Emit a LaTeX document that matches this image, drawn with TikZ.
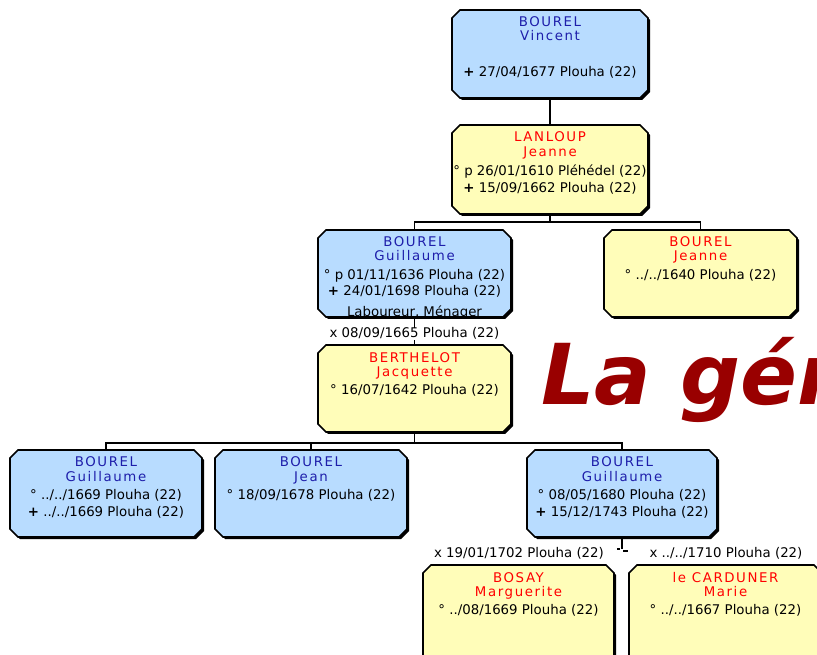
\documentclass[tikz,border=0pt]{standalone}
\usepackage{fontspec}
\setmainfont{DejaVu Sans}
\newfontfamily\namefont{DejaVu Sans}[LetterSpace=12]
\newfontfamily\lafont{DejaVu Sans Bold Oblique}
\usetikzlibrary{calc}
\definecolor{boxblue}{RGB}{184,220,255}
\definecolor{boxyellow}{RGB}{255,253,185}
\definecolor{nameblue}{RGB}{30,30,170}
\definecolor{namered}{RGB}{255,0,0}
\definecolor{lared}{RGB}{153,0,0}
\tikzset{
  pframe/.style={draw=none, inner sep=0pt, outer sep=0pt},
  pedge/.style={draw=black, line width=1.2pt, line join=miter},
  pshadow/.style={fill=black},
  lname/.style={font=\namefont\fontsize{10}{11}\selectfont, inner sep=0pt, text height=7.5pt, text depth=2pt},
  bname/.style={lname, text=nameblue},
  rname/.style={lname, text=namered},
  dline/.style={font=\fontsize{10}{11}\selectfont, inner sep=0pt, text height=7.5pt, text depth=2pt},
  mlabel/.style={dline, fill=white, inner xsep=1pt},
  conn/.style={draw=black, line width=0.9pt},
}
% chamfered outline around a named rectangle node
\newcommand\chamfer[2]{($(#1.north west)+(8+#2,#2)$) -- ($(#1.north east)+(-8+#2,#2)$) -- ($(#1.north east)+(#2,8+#2)$) -- ($(#1.south east)+(#2,-8+#2)$) -- ($(#1.south east)+(-8+#2,#2)$) -- ($(#1.south west)+(8+#2,#2)$) -- ($(#1.south west)+(#2,-8+#2)$) -- ($(#1.north west)+(#2,8+#2)$) -- cycle}
\newcommand\pbox[6]{%
  \node[pframe, minimum width={(#5-#3)*0.75pt}, minimum height={(#6-#4)*0.75pt}] (#1) at ({(#3+#5)/2},{(#4+#6)/2}) {};
  \fill[pshadow] \chamfer{#1}{2};
  \filldraw[pedge, fill=#2] \chamfer{#1}{0};
}
\newcommand\dead{\textbf{+}}
\begin{document}
\begin{tikzpicture}[x=0.75pt,y=-0.75pt]
\clip (0,0) rectangle (817,655);
% boxes
\pbox{vincent}{boxblue}{452}{10}{648}{98}
\pbox{lanloup}{boxyellow}{452}{125}{648}{214}
\pbox{gtwo}{boxblue}{318}{230}{511}{317}
\pbox{jeanne}{boxyellow}{604}{230}{797}{317}
\pbox{berthelot}{boxyellow}{318}{345}{511}{432}
\pbox{gone}{boxblue}{10}{450}{202}{537}
\pbox{jean}{boxblue}{215}{450}{407}{537}
\pbox{gthree}{boxblue}{527}{450}{717}{537}
\pbox{bosay}{boxyellow}{423}{565}{614}{665}
\pbox{carduner}{boxyellow}{629}{565}{822}{665}
% texts
\node[bname] (vincent-n) at ($(vincent.north)+(0,13)$) {BOUREL};
\node[bname] (vincent-f) at ($(vincent.north)+(0,27)$) {Vincent};
\node[dline] (vincent-2) at ($(vincent.north)+(0,63)$) {\dead\ 27/04/1677 Plouha (22)};

\node[rname] (lanloup-n) at ($(lanloup.north)+(0,13)$) {LANLOUP};
\node[rname] (lanloup-f) at ($(lanloup.north)+(0,28)$) {Jeanne};
\node[dline] (lanloup-1) at ($(lanloup.north)+(0,47)$) {° p 26/01/1610 Pléhédel (22)};
\node[dline] (lanloup-2) at ($(lanloup.north)+(0,64)$) {\dead\ 15/09/1662 Plouha (22)};

\node[bname] (gtwo-n) at ($(gtwo.north)+(0,13)$) {BOUREL};
\node[bname] (gtwo-f) at ($(gtwo.north)+(0,27)$) {Guillaume};
\node[dline] (gtwo-1) at ($(gtwo.north)+(0,46)$) {° p 01/11/1636 Plouha (22)};
\node[dline] (gtwo-2) at ($(gtwo.north)+(0,62)$) {\dead\ 24/01/1698 Plouha (22)};
\node[dline] (gtwo-3) at ($(gtwo.north)+(0,83)$) {Laboureur, Ménager};

\node[rname] (jeanne-n) at ($(jeanne.north)+(0,13)$) {BOUREL};
\node[rname] (jeanne-f) at ($(jeanne.north)+(0,27)$) {Jeanne};
\node[dline] (jeanne-1) at ($(jeanne.north)+(0,46)$) {° ../../1640 Plouha (22)};

\node[rname] (berthelot-n) at ($(berthelot.north)+(0,14)$) {BERTHELOT};
\node[rname] (berthelot-f) at ($(berthelot.north)+(0,28)$) {Jacquette};
\node[dline] (berthelot-1) at ($(berthelot.north)+(0,46)$) {° 16/07/1642 Plouha (22)};

\node[bname] (gone-n) at ($(gone.north)+(0,13)$) {BOUREL};
\node[bname] (gone-f) at ($(gone.north)+(0,28)$) {Guillaume};
\node[dline] (gone-1) at ($(gone.north)+(0,46)$) {° ../../1669 Plouha (22)};
\node[dline] (gone-2) at ($(gone.north)+(0,63)$) {\dead\ ../../1669 Plouha (22)};

\node[bname] (jean-n) at ($(jean.north)+(0,13)$) {BOUREL};
\node[bname] (jean-f) at ($(jean.north)+(0,28)$) {Jean};
\node[dline] (jean-1) at ($(jean.north)+(0,46)$) {° 18/09/1678 Plouha (22)};

\node[bname] (gthree-n) at ($(gthree.north)+(0,13)$) {BOUREL};
\node[bname] (gthree-f) at ($(gthree.north)+(0,28)$) {Guillaume};
\node[dline] (gthree-1) at ($(gthree.north)+(0,46)$) {° 08/05/1680 Plouha (22)};
\node[dline] (gthree-2) at ($(gthree.north)+(0,63)$) {\dead\ 15/12/1743 Plouha (22)};

\node[rname] (bosay-n) at ($(bosay.north)+(0,14)$) {BOSAY};
\node[rname] (bosay-f) at ($(bosay.north)+(0,28)$) {Marguerite};
\node[dline] (bosay-1) at ($(bosay.north)+(0,46)$) {° ../08/1669 Plouha (22)};

\node[rname] (carduner-n) at ($(carduner.north)+(0,14)$) {le CARDUNER};
\node[rname] (carduner-f) at ($(carduner.north)+(0,28)$) {Marie};
\node[dline] (carduner-1) at ($(carduner.north)+(0,46)$) {° ../../1667 Plouha (22)};
% connectors
\draw[conn] ($(vincent.south)+(0,2)$) -- (lanloup.north);
\coordinate (jA) at ($(lanloup.south)+(0,8)$);
\draw[conn] ($(lanloup.south)+(0,2)$) -- (jA);
\draw[conn] (gtwo.north) |- (jA) -| (jeanne.north);
\draw[conn] ($(gtwo.south)+(0,2)$) -- (berthelot.north);
\node[mlabel] (m1) at ($(gtwo.south)+(0,17)$) {x 08/09/1665 Plouha (22)};
\coordinate (jB) at ($(berthelot.south)+(0,11)$);
\draw[conn] ($(berthelot.south)+(0,2)$) -- (jB);
\draw[conn] (gone.north) |- (jB) -| (gthree.north);
\draw[conn] (jean.north) -- (jean.north |- jB);
\coordinate (jC) at ($(gthree.south)+(0,12)$);
\draw[conn] ($(gthree.south)+(0,2)$) -- (jC);
\draw[conn] ($(jC)+(-5,0)$) -- ($(jC)+(-2,0)$);
\draw[conn] ($(jC)+(1,2)$) -- ($(jC)+(6,2)$);
\node[dline] (m2) at (519,554) {x 19/01/1702 Plouha (22)};
\node[dline] (m3) at (726,554) {x ../../1710 Plouha (22)};
% title
\node[font=\lafont\fontsize{63}{70}\selectfont, text=lared, anchor=base west, inner sep=0pt] (title) at (541,405) {La gén};
\end{tikzpicture}
\end{document}
